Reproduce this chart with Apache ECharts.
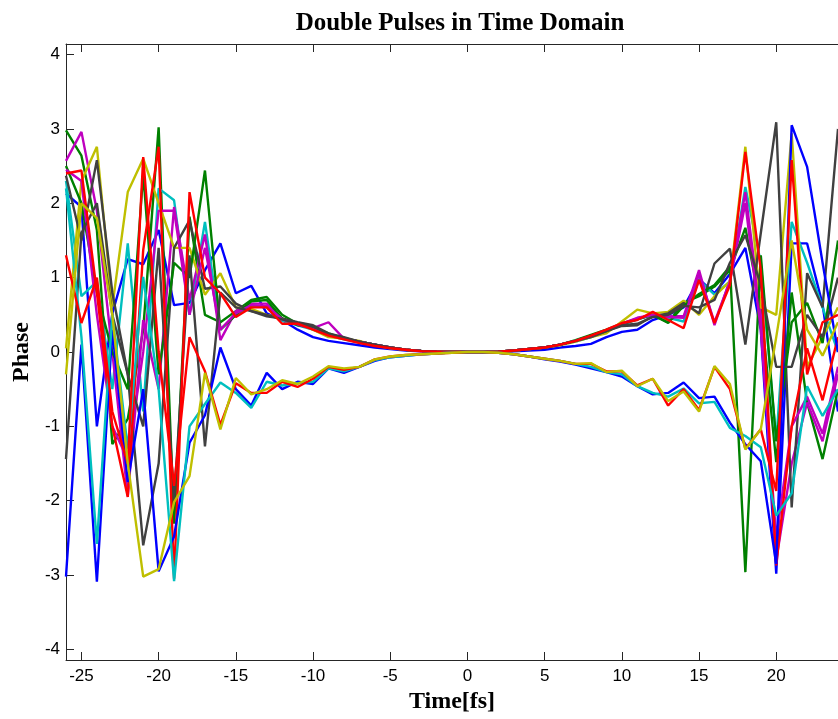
<!DOCTYPE html>
<html>
<head>
<meta charset="utf-8">
<script src="https://cdn.jsdelivr.net/npm/echarts@6/dist/echarts.min.js"></script>
<style>
  html, body { margin: 0; padding: 0; background: #fff; }
  #chart { width: 838px; height: 719px; }
</style>
</head>
<body>
<div id="chart"></div>
<script>
// time axis, -26 .. 24 fs
const times = [
  -26, -25, -24, -23, -22, -21, -20, -19, -18, -17, -16,
  -15, -14, -13, -12, -11, -10, -9, -8, -7, -6, -5, -4, -3, -2, -1,
  0, 1, 2, 3, 4, 5, 6, 7, 8, 9, 10, 11, 12, 13, 14,
  15, 16, 17, 18, 19, 20, 21, 22, 23, 24
];

const xTicks = [-25, -20, -15, -10, -5, 0, 5, 10, 15, 20];
const yTicks = [-4, -3, -2, -1, 0, 1, 2, 3, 4];

// phase per run
const b1 = [
  2.13, 1.95, -1.0, 0.52, 1.25, 1.18, 1.64, 0.63, 0.66, 1.1, 1.46,
  0.79, 0.89, 0.52, 0.43, 0.3, 0.2, 0.15, 0.12, 0.09, 0.06, 0.04, 0.02, 0.01, 0.0, 0.0,
  0.0, 0.0, 0.0, 0.01, 0.02, 0.03, 0.06, 0.08, 0.11, 0.2, 0.27, 0.3, 0.43, 0.5, 0.6,
  0.98, 0.79, 1.05, 1.4, 0.3, -2.98, 1.46, 1.46, 0.64, -0.8
];
const g1 = [
  2.98, 2.64, 1.64, -1.24, -0.9, 0.3, 3.02, -2.31, 1.82, 0.5, 0.4,
  0.55, 0.7, 0.74, 0.5, 0.38, 0.33, 0.25, 0.18, 0.14, 0.1, 0.06, 0.03, 0.015, 0.005, 0.0,
  0.0, 0.0, 0.005, 0.02, 0.04, 0.06, 0.1, 0.16, 0.23, 0.3, 0.38, 0.45, 0.5, 0.4, 0.66,
  0.75, 0.88, 1.1, 1.67, 0.6, -1.48, 0.8, -0.68, -1.44, -0.5
];
const c1 = [
  2.3, 0.75, 0.95, -0.5, 1.46, -0.8, 2.2, 2.04, 0.5, 1.75, 0.3,
  0.5, 0.62, 0.6, 0.42, 0.36, 0.3, 0.22, 0.17, 0.13, 0.09, 0.05, 0.03, 0.015, 0.005, 0.0,
  0.0, 0.0, 0.005, 0.02, 0.04, 0.06, 0.1, 0.14, 0.2, 0.28, 0.37, 0.44, 0.5, 0.46, 0.41,
  0.97, 0.77, 0.95, 2.22, 1.2, -1.2, 1.75, 1.2, 0.6, 0.0
];
const m1 = [
  2.57, 2.96, 1.9, 0.0, -1.94, 0.43, -0.5, 1.95, 0.7, 1.58, 0.16,
  0.55, 0.65, 0.65, 0.45, 0.38, 0.32, 0.4, 0.18, 0.14, 0.1, 0.06, 0.03, 0.015, 0.005, 0.0,
  0.0, 0.0, 0.005, 0.02, 0.04, 0.06, 0.1, 0.15, 0.21, 0.29, 0.38, 0.46, 0.5, 0.48, 0.48,
  1.1, 0.36, 0.97, 2.15, 0.5, -2.8, -1.5, -0.68, -1.2, -0.3
];
const y1 = [
  0.05, 2.3, 2.76, 0.61, 2.15, 2.6, 2.0, 1.4, 1.4, 0.77, 1.06,
  0.6, 0.58, 0.5, 0.45, 0.38, 0.3, 0.2, 0.18, 0.15, 0.09, 0.06, 0.03, 0.015, 0.005, 0.0,
  0.0, 0.0, 0.005, 0.02, 0.04, 0.06, 0.09, 0.14, 0.2, 0.25, 0.41, 0.57, 0.52, 0.54, 0.69,
  0.5, 0.75, 0.95, 2.76, 0.6, 0.5, 2.94, -0.2, 0.2, 0.6
];
const k1 = [
  2.37, 1.5, 2.58, 0.8, -0.3, -2.6, -1.5, 1.4, 1.77, 0.85, 0.88,
  0.65, 0.55, 0.48, 0.45, 0.4, 0.36, 0.25, 0.2, 0.14, 0.1, 0.06, 0.03, 0.015, 0.005, 0.0,
  0.0, 0.0, 0.005, 0.02, 0.04, 0.06, 0.1, 0.15, 0.2, 0.28, 0.35, 0.36, 0.48, 0.52, 0.66,
  0.52, 1.19, 1.39, 0.1, 1.6, 3.09, -2.09, 1.06, 0.6, 3.0
];
const g2 = [
  2.5, 2.0, 0.8, 0.0, -0.5, 2.4, -0.3, 1.2, 1.0, 2.44, 0.3,
  0.5, 0.68, 0.7, 0.45, 0.36, 0.33, 0.24, 0.18, 0.14, 0.1, 0.06, 0.03, 0.015, 0.005, 0.0,
  0.0, 0.0, 0.005, 0.02, 0.04, 0.06, 0.1, 0.15, 0.22, 0.29, 0.37, 0.44, 0.5, 0.39, 0.62,
  0.78, 0.9, 1.15, -2.96, 1.3, -1.2, 0.4, 0.66, 0.12, 1.5
];
const m2 = [
  2.45, 2.3, 0.5, -1.0, -1.45, 0.0, 1.9, 1.9, 0.5, 1.4, 0.3,
  0.52, 0.63, 0.62, 0.44, 0.37, 0.31, 0.23, 0.18, 0.14, 0.1, 0.06, 0.03, 0.015, 0.005, 0.0,
  0.0, 0.0, 0.005, 0.02, 0.04, 0.06, 0.1, 0.15, 0.21, 0.29, 0.38, 0.45, 0.5, 0.47, 0.46,
  1.05, 0.4, 0.95, 2.0, 0.3, -2.5, -1.0, -0.6, -1.1, -0.2
];
const k2 = [
  -1.44, 1.6, 2.0, 0.5, -0.3, -1.0, 1.4, -2.0, 1.3, -1.27, 0.8,
  0.6, 0.55, 0.5, 0.44, 0.38, 0.34, 0.24, 0.19, 0.14, 0.1, 0.06, 0.03, 0.015, 0.005, 0.0,
  0.0, 0.0, 0.005, 0.02, 0.04, 0.06, 0.1, 0.15, 0.21, 0.28, 0.36, 0.38, 0.47, 0.5, 0.62,
  0.6, 0.7, 1.2, 1.57, 0.9, -0.2, -0.2, 0.5, 0.2, 1.0
];
const r1 = [
  2.4, 2.44, 0.8, -1.0, -1.95, 1.37, 2.76, -3.05, 2.15, 1.0, 0.79,
  0.47, 0.6, 0.6, 0.38, 0.38, 0.3, 0.22, 0.17, 0.12, 0.08, 0.05, 0.03, 0.01, 0.005, 0.0,
  0.0, 0.0, 0.005, 0.02, 0.04, 0.06, 0.1, 0.15, 0.22, 0.3, 0.39, 0.43, 0.54, 0.43, 0.32,
  0.97, 0.39, 0.9, 2.69, 1.1, -2.87, -1.0, 0.05, -0.65, 0.2
];
const b2 = [
  -3.02, 0.1, -3.09, 0.3, -1.75, -0.5, -2.95, -2.48, -1.22, -0.85, 0.06,
  -0.5, -0.72, -0.28, -0.5, -0.4, -0.43, -0.22, -0.28, -0.2, -0.12, -0.07, -0.05, -0.03, -0.02, -0.005,
  0.0, 0.0, -0.01, -0.03, -0.06, -0.1, -0.13, -0.17, -0.22, -0.27, -0.33, -0.46, -0.57, -0.55, -0.41,
  -0.62, -0.6, -0.95, -1.24, -1.47, -2.85, 3.05, 2.49, 1.2, 0.0
];
const c2 = [
  2.2, 0.2, -2.58, 0.5, -1.3, 1.01, -0.5, -3.08, -1.0, -0.7, -0.41,
  -0.55, -0.75, -0.4, -0.45, -0.42, -0.4, -0.22, -0.26, -0.2, -0.11, -0.07, -0.05, -0.03, -0.02, -0.005,
  0.0, 0.0, -0.01, -0.03, -0.06, -0.09, -0.12, -0.16, -0.2, -0.27, -0.3, -0.46, -0.55, -0.6, -0.49,
  -0.69, -0.67, -1.02, -1.13, -1.28, -2.2, -1.9, -0.46, -0.86, -0.5
];
const r2 = [
  1.3, 0.39, 1.0, -0.8, -1.5, 2.62, 0.0, -1.8, 0.2, -0.26, -0.98,
  -0.42, -0.55, -0.55, -0.4, -0.47, -0.36, -0.2, -0.24, -0.2, -0.1, -0.06, -0.04, -0.03, -0.02, -0.01,
  0.0, 0.0, -0.01, -0.03, -0.06, -0.09, -0.12, -0.16, -0.16, -0.26, -0.26, -0.45, -0.36, -0.72, -0.5,
  -0.78, -0.2, -0.5, -1.3, -1.04, -1.87, 2.58, -0.3, 0.4, 0.5
];
const y2 = [
  -0.3, 2.0, 1.8, 0.5, -1.49, -3.02, -2.92, -2.02, -1.67, -0.28, -1.04,
  -0.35, -0.57, -0.5, -0.38, -0.43, -0.33, -0.19, -0.22, -0.2, -0.1, -0.06, -0.04, -0.03, -0.02, -0.01,
  0.0, 0.0, -0.01, -0.03, -0.06, -0.09, -0.12, -0.16, -0.15, -0.27, -0.25, -0.46, -0.36, -0.66, -0.53,
  -0.8, -0.19, -0.43, -1.31, -1.04, 0.2, 1.5, 0.3, -0.05, 0.4
];

// MATLAB default colour order
const runs = [
  { name: "b1", data: b1, color: "#0000FF" },
  { name: "g1", data: g1, color: "#008000" },
  { name: "c1", data: c1, color: "#00BFBF" },
  { name: "m1", data: m1, color: "#BF00BF" },
  { name: "y1", data: y1, color: "#BFBF00" },
  { name: "k1", data: k1, color: "#404040" },
  { name: "g2", data: g2, color: "#008000" },
  { name: "m2", data: m2, color: "#BF00BF" },
  { name: "k2", data: k2, color: "#404040" },
  { name: "r1", data: r1, color: "#FF0000" },
  { name: "b2", data: b2, color: "#0000FF" },
  { name: "c2", data: c2, color: "#00BFBF" },
  { name: "r2", data: r2, color: "#FF0000" },
  { name: "y2", data: y2, color: "#BFBF00" },
];

const serif = "'Liberation Serif', 'Times New Roman', serif";
const sans = "'Liberation Sans', Arial, sans-serif";
const axisColor = "#262626";
const yLim = 4.1416;

const chart = echarts.init(document.getElementById("chart"), null, { renderer: "canvas" });

const option = {
  animation: false,
  backgroundColor: "#fff",
  title: {
    text: "Double Pulses in Time Domain",
    left: 455,
    textAlign: "center",
    top: 6,
    textStyle: { fontFamily: serif, fontWeight: "bold", fontSize: 25, color: "#000" },
  },
  grid: { left: 66, right: -9, top: 44, bottom: 58, containLabel: false },
  xAxis: [
    {
      type: "value",
      min: -26,
      max: 24,
      name: "Time[fs]",
      nameLocation: "middle",
      nameGap: 30,
      nameTextStyle: { fontFamily: serif, fontWeight: "bold", fontSize: 24, color: "#000" },
      axisLine: { onZero: false, lineStyle: { color: axisColor, width: 1 } },
      axisTick: { inside: true, length: 8, customValues: xTicks, lineStyle: { color: axisColor } },
      axisLabel: { customValues: xTicks, fontFamily: sans, fontSize: 17, color: "#000", margin: 8 },
      splitLine: { show: false },
    },
    {
      type: "value",
      position: "top",
      min: -26,
      max: 24,
      axisLine: { onZero: false, lineStyle: { color: axisColor, width: 1 } },
      axisTick: { inside: true, length: 8, customValues: xTicks, lineStyle: { color: axisColor } },
      axisLabel: { show: false },
      splitLine: { show: false },
    },
  ],
  yAxis: [
    {
      type: "value",
      min: -yLim,
      max: yLim,
      name: "Phase",
      nameLocation: "middle",
      nameGap: 31,
      nameRotate: 90,
      nameTextStyle: { fontFamily: serif, fontWeight: "bold", fontSize: 24, color: "#000" },
      axisLine: { show: true, onZero: false, lineStyle: { color: axisColor, width: 1 } },
      axisTick: { show: true, inside: true, length: 8, customValues: yTicks, lineStyle: { color: axisColor } },
      axisLabel: { customValues: yTicks, fontFamily: sans, fontSize: 17, color: "#000", margin: 6 },
      splitLine: { show: false },
    },
  ],
  series: runs.map((r) => ({
    name: r.name,
    type: "line",
    xAxisIndex: 0,
    data: times.map((t, i) => [t, r.data[i]]),
    showSymbol: false,
    symbol: "none",
    clip: true,
    lineStyle: { color: r.color, width: 2.4 },
    itemStyle: { color: r.color },
    emphasis: { disabled: true },
  })),
};

chart.setOption(option);
</script>
</body>
</html>
